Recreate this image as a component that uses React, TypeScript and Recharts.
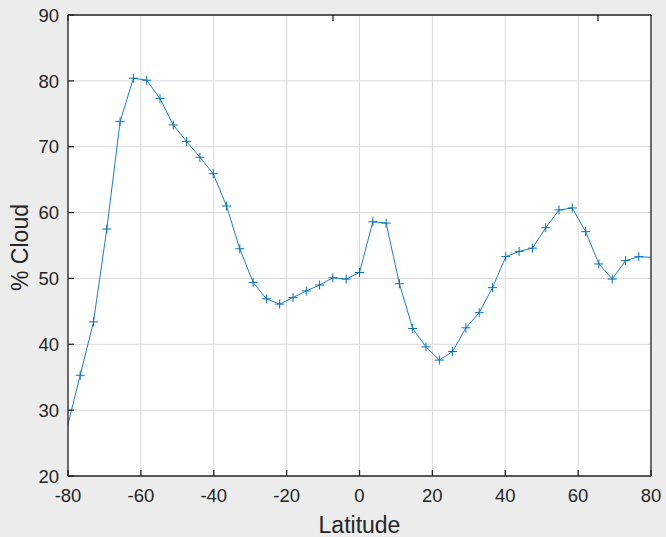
import { LineChart, Line, XAxis, YAxis, CartesianGrid, Label } from 'recharts';

// zonal mean cloud fraction by latitude band
const LATITUDE = [
  -80.3, -76.65, -73.0, -69.35, -65.7, -62.05, -58.4, -54.75, -51.1, -47.45, -43.8,
  -40.15, -36.5, -32.85, -29.2, -25.55, -21.9, -18.25, -14.6, -10.95, -7.3, -3.65,
  0,
  3.65, 7.3, 10.95, 14.6, 18.25, 21.9, 25.55, 29.2, 32.85, 36.5, 40.15,
  43.8, 47.45, 51.1, 54.75, 58.4, 62.05, 65.7, 69.35, 73.0, 76.65, 80.3,
];
const CLOUD = [
  27.2, 35.3, 43.4, 57.5, 73.8, 80.4, 80.1, 77.3, 73.3, 70.8, 68.4,
  65.9, 61.0, 54.5, 49.4, 46.9, 46.1, 47.1, 48.1, 49.0, 50.1, 49.9,
  50.9,
  58.6, 58.4, 49.2, 42.4, 39.6, 37.6, 38.9, 42.5, 44.8, 48.6, 53.3,
  54.1, 54.6, 57.7, 60.4, 60.7, 57.1, 52.2, 49.9, 52.7, 53.3, 53.2,
];
const X_TICKS = [-80, -60, -40, -20, 0, 20, 40, 60, 80];
const Y_TICKS = [20, 30, 40, 50, 60, 70, 80, 90];

const data = LATITUDE.map((lat, i) => ({ lat, cloud: CLOUD[i] }));

const INK = '#262626';
const BLUE = '#0072BD';
const FONT = '"Liberation Sans", Arial, Helvetica, sans-serif';
const TICK_LEN = 6;
const AXIS_W = 1.3;

function BottomTick({ x, y, payload }: any) {
  return (
    <g>
      <line x1={x} y1={y} x2={x} y2={y - TICK_LEN} stroke={INK} strokeWidth={AXIS_W} />
      <text x={x} y={y + 26} textAnchor="middle" fill={INK} fontSize={18.5} fontFamily={FONT}>
        {payload.value}
      </text>
    </g>
  );
}

function LeftTick({ x, y, payload }: any) {
  return (
    <g>
      <line x1={x} y1={y} x2={x + TICK_LEN} y2={y} stroke={INK} strokeWidth={AXIS_W} />
      <text x={x - 9} y={y} dy="0.36em" textAnchor="end" fill={INK} fontSize={18.5} fontFamily={FONT}>
        {payload.value}
      </text>
    </g>
  );
}

function TopTick({ x, y }: any) {
  return <line x1={x} y1={y} x2={x} y2={y + TICK_LEN} stroke={INK} strokeWidth={AXIS_W} />;
}

function RightTick({ x, y }: any) {
  return <line x1={x} y1={y} x2={x - TICK_LEN} y2={y} stroke={INK} strokeWidth={AXIS_W} />;
}

function XTitle({ viewBox }: any) {
  const { x, y, width, height } = viewBox;
  return (
    <text x={x + width / 2} y={y + height - 4} textAnchor="middle" fill={INK} fontSize={23} fontFamily={FONT}>
      Latitude
    </text>
  );
}

function YTitle({ viewBox }: any) {
  const { x, y, height } = viewBox;
  return (
    <text
      transform={`translate(${x + 28},${y + height / 2 + 2}) rotate(-90)`}
      textAnchor="middle"
      fill={INK}
      fontSize={23}
      fontFamily={FONT}
    >
      % Cloud
    </text>
  );
}

// '+' markers; points beyond the axis limits are left unmarked
function PlusMarker({ cx, cy, payload, index }: any) {
  if (payload.lat < -80 || payload.lat > 80) return <g key={`m-${index}`} />;
  const r = 4.5;
  return (
    <path
      key={`m-${index}`}
      d={`M${cx - r},${cy}H${cx + r}M${cx},${cy - r}V${cy + r}`}
      stroke={BLUE}
      strokeWidth={1}
      fill="none"
    />
  );
}

export default function App() {
  return (
    <div style={{ position: 'fixed', left: 0, top: 0, width: 666, height: 537, background: '#ececec' }}>
      <LineChart width={666} height={537} data={data} margin={{ top: 0, right: 0, bottom: 0, left: 0 }}>
        <CartesianGrid stroke="#dadada" fill="#ffffff" fillOpacity={1} />
        <XAxis
          dataKey="lat"
          type="number"
          domain={[-80, 80]}
          ticks={X_TICKS}
          interval={0}
          allowDataOverflow
          height={61}
          tickSize={0}
          tickMargin={0}
          tickLine={false}
          axisLine={{ stroke: INK, strokeWidth: AXIS_W }}
          tick={<BottomTick />}
        >
          <Label content={<XTitle />} />
        </XAxis>
        <XAxis
          xAxisId="top"
          orientation="top"
          type="number"
          domain={[-80, 80]}
          ticks={X_TICKS}
          interval={0}
          height={15}
          tickSize={0}
          tickMargin={0}
          tickLine={false}
          axisLine={{ stroke: INK, strokeWidth: AXIS_W }}
          tick={<TopTick />}
        />
        <YAxis
          type="number"
          domain={[20, 90]}
          ticks={Y_TICKS}
          interval={0}
          allowDataOverflow
          width={68}
          tickSize={0}
          tickMargin={0}
          tickLine={false}
          axisLine={{ stroke: INK, strokeWidth: AXIS_W }}
          tick={<LeftTick />}
        >
          <Label content={<YTitle />} />
        </YAxis>
        <YAxis
          yAxisId="right"
          orientation="right"
          type="number"
          domain={[20, 90]}
          ticks={Y_TICKS}
          interval={0}
          width={15}
          tickSize={0}
          tickMargin={0}
          tickLine={false}
          axisLine={{ stroke: INK, strokeWidth: AXIS_W }}
          tick={<RightTick />}
        />
        <Line
          dataKey="cloud"
          stroke={BLUE}
          strokeWidth={0.9}
          dot={PlusMarker}
          activeDot={false}
          isAnimationActive={false}
        />
      </LineChart>
    </div>
  );
}
